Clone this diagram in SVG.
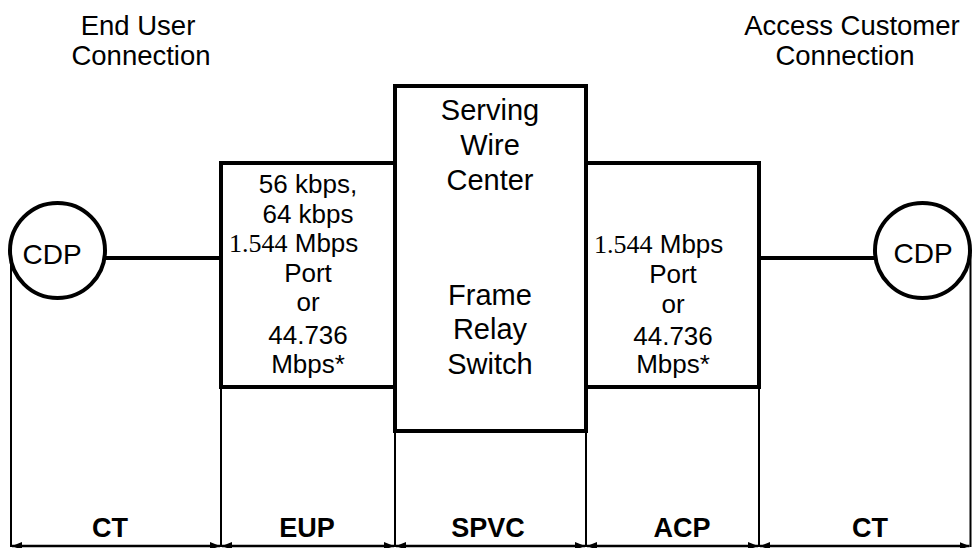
<svg xmlns="http://www.w3.org/2000/svg" width="972" height="548" viewBox="0 0 972 548">
<style>
.thick{fill:none;stroke:#000;stroke-width:4}
.thin{fill:none;stroke:#000;stroke-width:2}
.t{font-family:"Liberation Sans",Arial,sans-serif;fill:#000;text-anchor:middle}
.tl{font-family:"Liberation Sans",Arial,sans-serif;fill:#000}
.serif{font-family:"Liberation Serif","Times New Roman",serif}
.box{fill:#fff;stroke:#000;stroke-width:4}
.lbl{font-size:27px;font-weight:bold}
.bx{font-size:26px}
.cx{font-size:29px}
.top{font-size:27.5px}
</style>
<defs>
<marker id="ah" viewBox="0 0 10 8" refX="10" refY="4" markerWidth="10" markerHeight="8" markerUnits="userSpaceOnUse" orient="auto-start-reverse">
<path d="M0,0 L10,4 L0,8 z" fill="#000"/>
</marker>
</defs>
<rect width="972" height="548" fill="#fff"/>

<g id="connectors">
<line class="thick" x1="105" y1="258" x2="221" y2="258"/>
<line class="thick" x1="759" y1="258" x2="875" y2="258"/>
<line class="thin" x1="11" y1="260" x2="11" y2="547"/>
<line class="thin" x1="221" y1="387" x2="221" y2="547"/>
<line class="thin" x1="395" y1="431" x2="395" y2="547"/>
<line class="thin" x1="586" y1="431" x2="586" y2="547"/>
<line class="thin" x1="759" y1="387" x2="759" y2="547"/>
<line class="thin" x1="970.5" y1="255" x2="970.5" y2="547"/>
<g stroke="#000" stroke-width="2.5">
<line x1="12" y1="546" x2="220" y2="546" marker-start="url(#ah)" marker-end="url(#ah)"/>
<line x1="222" y1="546" x2="394" y2="546" marker-start="url(#ah)" marker-end="url(#ah)"/>
<line x1="396" y1="546" x2="585" y2="546" marker-start="url(#ah)" marker-end="url(#ah)"/>
<line x1="587" y1="546" x2="758" y2="546" marker-start="url(#ah)" marker-end="url(#ah)"/>
<line x1="760" y1="546" x2="969.5" y2="546" marker-start="url(#ah)" marker-end="url(#ah)"/>
</g>
</g>

<g id="label-end-user">
<text class="t top" x="138" y="35">End User</text>
<text class="t top" x="141" y="65">Connection</text>
</g>
<g id="label-access-customer">
<text class="t top" x="852" y="35">Access Customer</text>
<text class="t top" x="845" y="65">Connection</text>
</g>

<g id="cdp-left">
<circle class="thick" cx="57.5" cy="250.5" r="47.5" fill="#fff"/>
<text class="t" x="52" y="264" font-size="28">CDP</text>
</g>
<g id="cdp-right">
<circle class="thick" cx="922.5" cy="250.5" r="47.5" fill="#fff"/>
<text class="t" x="923" y="263" font-size="28">CDP</text>
</g>

<g id="eup-box">
<rect class="box" x="221" y="163" width="174" height="224"/>
<text class="t bx" x="308" y="193">56 kbps,</text>
<text class="t bx" x="308" y="223">64 kbps</text>
<text class="tl bx" x="229" y="252"><tspan class="serif">1.544</tspan> Mbps</text>
<text class="t bx" x="308" y="282">Port</text>
<text class="t bx" x="308" y="311">or</text>
<text class="t bx" x="308" y="344">44.736</text>
<text class="t bx" x="308" y="373">Mbps*</text>
</g>

<g id="acp-box">
<rect class="box" x="586" y="163" width="173" height="224"/>
<text class="tl bx" x="594" y="253"><tspan class="serif">1.544</tspan> Mbps</text>
<text class="t bx" x="673" y="283">Port</text>
<text class="t bx" x="673" y="313">or</text>
<text class="t bx" x="673" y="345">44.736</text>
<text class="t bx" x="673" y="373">Mbps*</text>
</g>

<g id="swc-box">
<rect class="box" x="395" y="86" width="191" height="345"/>
<text class="t cx" x="490" y="120">Serving</text>
<text class="t cx" x="490" y="155">Wire</text>
<text class="t cx" x="490" y="190">Center</text>
<text class="t cx" x="490" y="305">Frame</text>
<text class="t cx" x="490" y="339">Relay</text>
<text class="t cx" x="490" y="374">Switch</text>
</g>

<g id="bottom-labels">
<text class="t lbl" x="110" y="537">CT</text>
<text class="t lbl" x="307" y="537">EUP</text>
<text class="t lbl" x="488" y="537">SPVC</text>
<text class="t lbl" x="682" y="537">ACP</text>
<text class="t lbl" x="870" y="537">CT</text>
</g>
</svg>
